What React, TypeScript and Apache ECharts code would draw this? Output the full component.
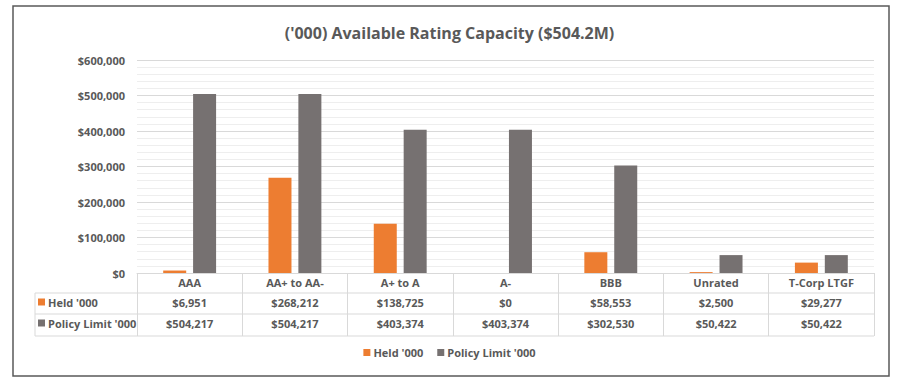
import React, { useEffect, useRef } from "react";
import * as echarts from "echarts";

const title = "('000) Available Rating Capacity ($504.2M)";
const categories = ["AAA", "AA+ to AA-", "A+ to A", "A-", "BBB", "Unrated", "T-Corp LTGF"];
const heldName = "Held '000";
const policyName = "Policy Limit '000";
const heldValues = [6951, 268212, 138725, 0, 58553, 2500, 29277];
const policyValues = [504217, 504217, 403374, 403374, 302530, 50422, 50422];
const yMin = 0;
const yMax = 600000;
const yInterval = 100000;

const ORANGE = "#ED7D31";
const GRAY = "#767171";
const TEXT = "#595959";
const FONT = "'Open Sans', 'Noto Sans', sans-serif";

const money = (v: number) => "$" + v.toLocaleString("en-US");

export default function App() {
  const ref = useRef<HTMLDivElement>(null);
  useEffect(() => {
    document.body.style.margin = "0";
    const chart = echarts.init(ref.current!, null, { renderer: "svg" });
    const gridLeft = 137;
    const gridRight = 874;
    const axisY = 273;
    const tableLine = { stroke: "#D9D9D9", lineWidth: 1 };
    chart.setOption({
      animation: false,
      backgroundColor: "#ffffff",
      title: {
        text: title,
        left: "center",
        top: 20,
        textStyle: { fontFamily: FONT, fontSize: 16, fontWeight: "bold", color: TEXT },
      },
      grid: { left: gridLeft, right: 899 - gridRight, top: 60, bottom: 387 - axisY },
      legend: [
        {
          data: [heldName, policyName],
          bottom: 24,
          left: "center",
          icon: "rect",
          itemWidth: 7,
          itemHeight: 7,
          itemGap: 14,
          selectedMode: false,
          textStyle: { fontFamily: FONT, fontSize: 11, fontWeight: "bold", color: TEXT, padding: [0, 0, 0, -2] },
        },
        {
          data: [heldName, policyName],
          orient: "vertical",
          left: 38,
          top: 295,
          icon: "rect",
          itemWidth: 7,
          itemHeight: 7,
          itemGap: 7,
          padding: 0,
          selectedMode: false,
          textStyle: { fontFamily: FONT, fontSize: 11, fontWeight: "bold", color: TEXT, lineHeight: 14, padding: [0, 0, 0, -2] },
        },
      ],
      xAxis: [
        {
          type: "category",
          data: categories,
          position: "bottom",
          axisLine: { show: true, lineStyle: { color: "#D9D9D9" } },
          axisTick: { show: true, length: 63, lineStyle: { color: "#D9D9D9" } },
          axisLabel: { interval: 0, margin: 4, fontFamily: FONT, fontSize: 11, fontWeight: "bold", color: TEXT },
        },
        {
          type: "category",
          data: categories,
          position: "bottom",
          offset: 20,
          axisLine: { show: false },
          axisTick: { show: false },
          axisLabel: {
            interval: 0,
            margin: 4,
            fontFamily: FONT,
            fontSize: 11,
            fontWeight: "bold",
            color: TEXT,
            formatter: (_v: string, i: number) => money(heldValues[i]),
          },
        },
        {
          type: "category",
          data: categories,
          position: "bottom",
          offset: 41,
          axisLine: { show: false },
          axisTick: { show: false },
          axisLabel: {
            interval: 0,
            margin: 4,
            fontFamily: FONT,
            fontSize: 11,
            fontWeight: "bold",
            color: TEXT,
            formatter: (_v: string, i: number) => money(policyValues[i]),
          },
        },
      ],
      yAxis: {
        type: "value",
        min: yMin,
        max: yMax,
        interval: yInterval,
        axisLine: { show: false },
        axisTick: { show: false },
        axisLabel: {
          margin: 12,
          fontFamily: FONT,
          fontSize: 11,
          fontWeight: "bold",
          color: TEXT,
          formatter: (v: number) => money(v),
        },
        splitLine: { show: true, lineStyle: { color: "#D9D9D9" } },
        minorTick: { show: false, splitNumber: 5 },
        minorSplitLine: { show: true, lineStyle: { color: "#EEEEEE" } },
      },
      series: [
        {
          name: heldName,
          type: "bar",
          data: heldValues,
          barWidth: 23,
          barGap: "30%",
          itemStyle: { color: ORANGE },
        },
        {
          name: policyName,
          type: "bar",
          data: policyValues,
          barWidth: 23,
          barGap: "30%",
          itemStyle: { color: GRAY },
        },
      ],
      graphic: [
        {
          type: "rect",
          shape: { x: 13, y: 6, width: 876, height: 370 },
          style: { fill: "none", stroke: "#595959", lineWidth: 1.5 },
          silent: true,
        },
        { type: "line", shape: { x1: 35, y1: 293, x2: gridRight, y2: 293 }, style: tableLine, silent: true },
        { type: "line", shape: { x1: 35, y1: 314, x2: gridRight, y2: 314 }, style: tableLine, silent: true },
        { type: "line", shape: { x1: 35, y1: 336, x2: gridRight, y2: 336 }, style: tableLine, silent: true },
        { type: "line", shape: { x1: 35, y1: 293, x2: 35, y2: 336 }, style: tableLine, silent: true },
      ],
    });
    return () => chart.dispose();
  }, []);
  return <div ref={ref} style={{ position: "fixed", left: 0, top: 0, width: 899, height: 387 }} />;
}
